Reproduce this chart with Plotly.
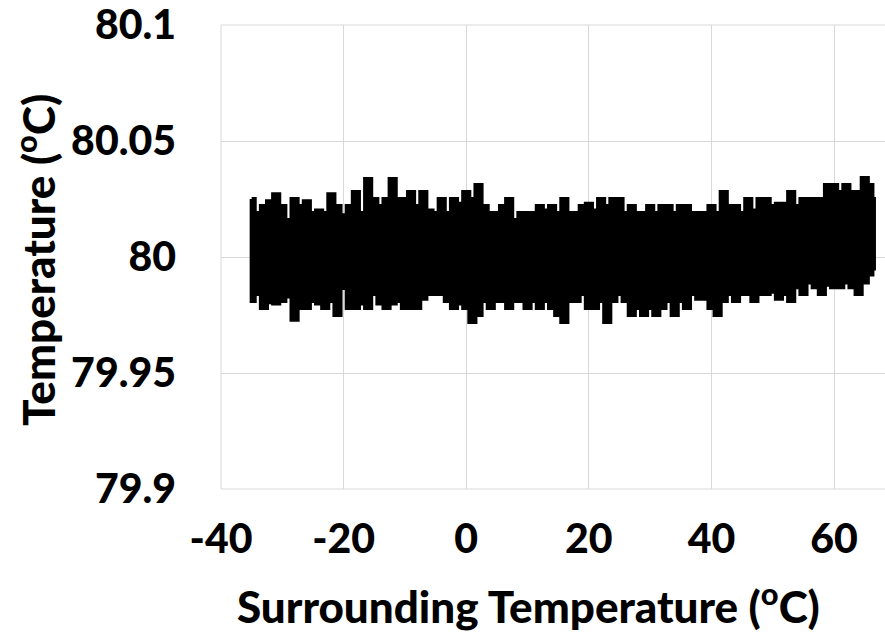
import plotly.graph_objects as go

# Surrounding temperature samples (deg C)
surr_temp = [-35, -34, -33, -32, -31, -30, -29, -28, -27, -26, -25, -24, -23, -22, -21, -20,
             -19, -18, -17, -16, -15, -14, -13, -12, -11, -10, -9, -8, -7, -6, -5, -4, -3, -2,
             -1, 0, 1, 2, 3, 4, 5, 6, 7, 8, 9, 10, 11, 12, 13, 14, 15, 16, 17, 18, 19, 20,
             21, 22, 23, 24, 25, 26, 27, 28, 29, 30, 31, 32, 33, 34, 35, 36, 37, 38, 39, 40,
             41, 42, 43, 44, 45, 46, 47, 48, 49, 50, 51, 52, 53, 54, 55, 56, 57, 58, 59, 60,
             61, 62, 63, 64, 65, 66, 66.5]

# Upper envelope of the measured temperature (deg C)
temp_upper = [80.025, 80.019, 80.022, 80.024, 80.027, 80.022, 80.016, 80.025, 80.022, 80.024,
              80.019, 80.020, 80.019, 80.027, 80.022, 80.018,
              80.022, 80.028, 80.019, 80.0336, 80.025, 80.022, 80.025, 80.0336, 80.025, 80.025,
              80.028, 80.022, 80.028, 80.020, 80.019, 80.025, 80.019, 80.025,
              80.023, 80.028, 80.025, 80.031, 80.022, 80.019, 80.019, 80.022, 80.025, 80.016,
              80.019, 80.019, 80.019, 80.022, 80.020, 80.022, 80.019,
              80.025, 80.019, 80.019, 80.022, 80.023, 80.020, 80.025, 80.022, 80.025, 80.025,
              80.019, 80.022, 80.019, 80.019, 80.022, 80.019, 80.022,
              80.022, 80.019, 80.022, 80.022, 80.019, 80.019, 80.019, 80.022, 80.019, 80.028,
              80.022, 80.022, 80.019, 80.025, 80.020, 80.025, 80.025, 80.022,
              80.023, 80.023, 80.028, 80.022, 80.025, 80.025, 80.025, 80.025, 80.031, 80.031,
              80.028, 80.031, 80.028, 80.028, 80.034, 80.031, 80.025]

# Lower envelope of the measured temperature (deg C)
temp_lower = [79.981, 79.984, 79.978, 79.9805, 79.980, 79.981, 79.983, 79.973, 79.978, 79.978,
              79.981, 79.980, 79.978, 79.981, 79.975, 79.9866,
              79.978, 79.978, 79.980, 79.978, 79.984, 79.980, 79.978, 79.980, 79.981, 79.978,
              79.978, 79.978, 79.982, 79.984, 79.984, 79.984, 79.981, 79.978,
              79.980, 79.978, 79.972, 79.975, 79.981, 79.978, 79.981, 79.981, 79.978, 79.981,
              79.981, 79.978, 79.981, 79.978, 79.981, 79.978, 79.975,
              79.972, 79.981, 79.981, 79.984, 79.978, 79.978, 79.981, 79.972, 79.981, 79.984,
              79.981, 79.975, 79.978, 79.975, 79.978, 79.975, 79.978,
              79.981, 79.975, 79.981, 79.978, 79.984, 79.982, 79.982, 79.978, 79.975, 79.981,
              79.984, 79.981, 79.984, 79.984, 79.981, 79.984, 79.984, 79.985,
              79.982, 79.984, 79.981, 79.987, 79.984, 79.989, 79.987, 79.984, 79.988, 79.987,
              79.987, 79.989, 79.987, 79.984, 79.989, 79.9925, 79.995]

x_ticks = [-40, -20, 0, 20, 40, 60]
x_tick_text = ["-40", "-20", "0", "20", "40", "60"]
y_ticks = [79.9, 79.95, 80.0, 80.05, 80.1]
y_tick_text = ["79.9", "79.95", "80", "80.05", "80.1"]

FONT = "Lato"
GRID = "#d9d9d9"

band_x = surr_temp + surr_temp[::-1] + [surr_temp[0]]
band_y = temp_upper + temp_lower[::-1] + [temp_upper[0]]

fig = go.Figure()
fig.add_trace(go.Scatter(
    x=band_x, y=band_y, mode="lines",
    line=dict(color="black", width=4, shape="hvh"),
    fill="toself", fillcolor="black",
    hoverinfo="skip", showlegend=False,
))

tick_font = dict(family=FONT, size=41, color="black", weight=900)
title_font = dict(family=FONT, size=44, color="black", weight=900)

border = dict(color=GRID, width=1)
fig.update_layout(
    width=885, height=632,
    margin=dict(l=221, r=0, t=25, b=143),
    paper_bgcolor="white", plot_bgcolor="white",
    font=dict(family=FONT, color="black"),
    showlegend=False,
    xaxis=dict(
        range=[-40, 68.3], tickvals=x_ticks, ticktext=x_tick_text, showgrid=True,
        gridcolor=GRID, gridwidth=1, zeroline=False, ticks="", showline=False,
        tickfont=tick_font, ticklabelstandoff=22, ticklabeloverflow="allow",
    ),
    yaxis=dict(
        range=[79.9, 80.1], tickvals=y_ticks, ticktext=y_tick_text, showgrid=True,
        gridcolor=GRID, gridwidth=1, zeroline=False, ticks="", showline=False,
        tickfont=tick_font, ticklabelstandoff=44, ticklabeloverflow="allow",
    ),
    shapes=[
        dict(type="line", xref="paper", yref="paper", x0=0, x1=0, y0=0, y1=1,
             line=border, layer="below"),
        dict(type="line", xref="paper", yref="paper", x0=0, x1=1, y0=1, y1=1,
             line=border, layer="below"),
        dict(type="line", xref="paper", yref="paper", x0=0, x1=1, y0=0, y1=0,
             line=border, layer="below"),
    ],
    annotations=[
        dict(text="Surrounding Temperature (<sup>o</sup>C)", xref="paper", yref="paper",
             x=(528 - 221) / 664, y=(489 - 603) / 464, xanchor="center", yanchor="middle",
             showarrow=False, font=title_font),
        dict(text="Temperature (<sup>o</sup>C)", xref="paper", yref="paper",
             x=(35 - 221) / 664, y=(489 - 260) / 464, xanchor="center", yanchor="middle",
             textangle=-90, showarrow=False, font=title_font),
    ],
)

fig.write_html("out.html")
